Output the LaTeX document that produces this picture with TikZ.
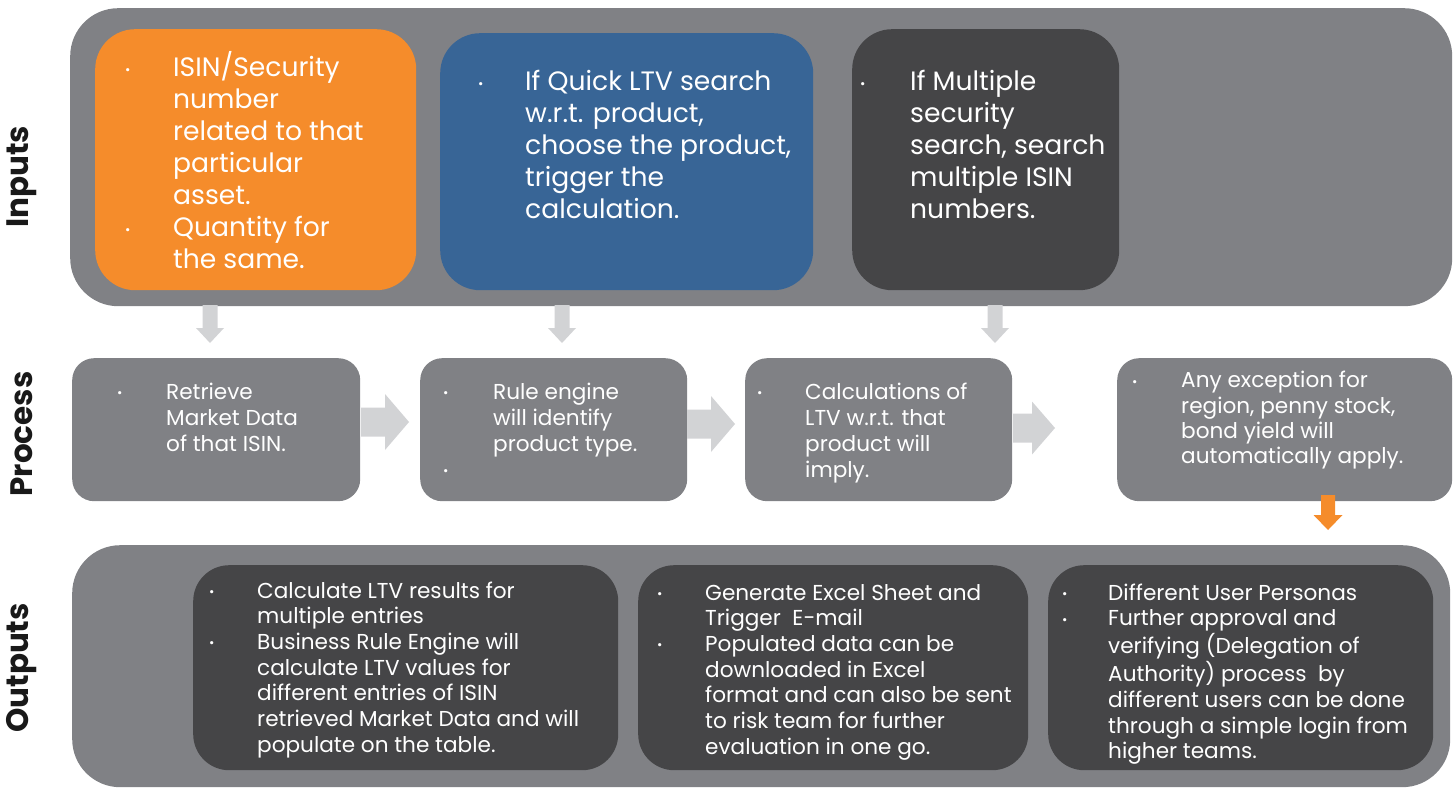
\documentclass[tikz,border=0pt]{standalone}
\usepackage{fontspec}
\setmainfont{Poppins}

\definecolor{bandgray}{RGB}{128,129,133}
\definecolor{darkbox}{RGB}{69,69,71}
\definecolor{inorange}{RGB}{245,140,43}
\definecolor{inblue}{RGB}{56,101,150}
\definecolor{arrowgray}{RGB}{210,211,213}
\definecolor{labelink}{RGB}{25,25,25}

% small bullet used in every list
\newcommand\blt{\raisebox{0.15ex}{\fontsize{13}{13}\selectfont\textbullet}}
\newcommand\bigtext{\fontsize{26.6}{32}\selectfont}
\newcommand\smalltext{\fontsize{21.6}{26}\selectfont}
\newcommand\outtext{\fontsize{21.6}{25.7}\selectfont}

% block arrow pointing right: style, name, x, y (mid of tail), length, shaft, head width, head length
\newcommand\blkright[8]{%
  \coordinate (#2) at (#3,#4);
  \fill[#1] ({#3},{#4-#6/2}) -- ({#3+#5-#8},{#4-#6/2}) -- ({#3+#5-#8},{#4-#7/2})
    -- ({#3+#5},{#4}) -- ({#3+#5-#8},{#4+#7/2}) -- ({#3+#5-#8},{#4+#6/2})
    -- ({#3},{#4+#6/2}) -- cycle;}
% block arrow pointing down: style, name, x (mid of tail), y, length, shaft, head width, head length
\newcommand\blkdown[8]{%
  \coordinate (#2) at (#3,#4);
  \fill[#1] ({#3-#6/2},{#4}) -- ({#3+#6/2},{#4}) -- ({#3+#6/2},{#4+#5-#8})
    -- ({#3+#7/2},{#4+#5-#8}) -- ({#3},{#4+#5}) -- ({#3-#7/2},{#4+#5-#8})
    -- ({#3-#6/2},{#4+#5-#8}) -- cycle;}

\tikzset{
  band/.style={fill=bandgray, rounded corners=48pt, inner sep=0pt, anchor=north west},
  inbox/.style={rounded corners=40pt, inner sep=0pt, anchor=north west},
  procbox/.style={fill=bandgray, rounded corners=22pt, inner sep=0pt, anchor=north west},
  outbox/.style={fill=darkbox, rounded corners=36pt, inner sep=0pt, anchor=north west},
  listtext/.style={text=white, inner sep=0pt, anchor=north west, align=left},
  sidelabel/.style={rotate=90, text=labelink, font=\fontsize{31}{31}\selectfont\bfseries},
  grayarrow/.style={fill=arrowgray},
  hotarrow/.style={fill=inorange},
}

\begin{document}
\begin{tikzpicture}[x=1pt, y=-1pt]
\useasboundingbox (0,0) rectangle (1454,789);

% ---- side labels
\node[sidelabel] (lblin) at (22,177) {Inputs};
\node[sidelabel] (lblproc) at (22,434) {Process};
\node[sidelabel] (lblout) at (22,668) {Outputs};

% ---- inputs band
\node[band, minimum width=1382pt, minimum height=298pt] (inband) at (70,8) {};
\node[inbox, fill=inorange, minimum width=321pt, minimum height=261pt] (isin) at (95,29) {};
\node[inbox, fill=inblue, minimum width=373pt, minimum height=257pt] (quick) at (440,33) {};
\node[inbox, fill=darkbox, minimum width=267pt, minimum height=261pt] (multi) at (852,29) {};

\node[listtext, font=\bigtext] (isintxt) at (125,51) {%
  \begin{tabular}{@{}p{48pt}@{}l@{}}
  \blt & ISIN/Security\\ & number\\ & related to that\\ & particular\\ & asset.\\
  \blt & Quantity for\\ & the same.
  \end{tabular}};
\node[listtext, font=\bigtext] (quicktxt) at (478,68) {%
  \begin{tabular}{@{}p{47pt}@{}l@{}}
  \blt & If Quick LTV search\\ & w.r.t. product,\\ & choose the product,\\ & trigger the\\ & calculation.
  \end{tabular}};
\node[listtext, font=\bigtext] (multitxt) at (860,68) {%
  \begin{tabular}{@{}p{50pt}@{}l@{}}
  \blt & If Multiple\\ & security\\ & search, search\\ & multiple ISIN\\ & numbers.
  \end{tabular}};

% ---- process row
\node[procbox, minimum width=288pt, minimum height=143pt] (retr) at (72,358) {};
\node[procbox, minimum width=267pt, minimum height=143pt] (rule) at (420,358) {};
\node[procbox, minimum width=267pt, minimum height=143pt] (calc) at (745,358) {};
\node[procbox, minimum width=335pt, minimum height=143pt] (exc) at (1117,358) {};

\node[listtext, font=\smalltext] (retrtxt) at (117,381) {%
  \begin{tabular}{@{}p{49pt}@{}l@{}}
  \blt & Retrieve\\ & Market Data\\ & of that ISIN.
  \end{tabular}};
\node[listtext, font=\smalltext] (ruletxt) at (443,381) {%
  \begin{tabular}{@{}p{50pt}@{}l@{}}
  \blt & Rule engine\\ & will identify\\ & product type.\\ \blt &
  \end{tabular}};
\node[listtext, font=\smalltext] (calctxt) at (757,381) {%
  \begin{tabular}{@{}p{48pt}@{}l@{}}
  \blt & Calculations of\\ & LTV w.r.t. that\\ & product will\\ & imply.
  \end{tabular}};
\node[listtext, font=\fontsize{21.6}{25.3}\selectfont] (exctxt) at (1132,370) {%
  \begin{tabular}{@{}p{49pt}@{}l@{}}
  \blt & Any exception for\\ & region, penny stock,\\ & bond yield will\\ & automatically apply.
  \end{tabular}};

% ---- block arrows from inputs to process
\blkdown{grayarrow}{dA}{210}{305}{38}{15}{28}{15}
\blkdown{grayarrow}{dB}{562}{305}{38}{15}{28}{15}
\blkdown{grayarrow}{dC}{995}{305}{38}{15}{28}{15}

% ---- block arrows along the process row
\blkright{grayarrow}{rA}{361}{422}{48}{29}{56}{24}
\blkright{grayarrow}{rB}{687}{424}{48}{29}{56}{24}
\blkright{grayarrow}{rC}{1013}{428}{42}{29}{53}{23}

% ---- orange arrow into outputs
\blkdown{hotarrow}{dOut}{1328}{495}{35}{14}{29}{15}

% ---- outputs band
\node[band, minimum width=1378pt, minimum height=242pt] (outband) at (72,545) {};
\node[outbox, minimum width=425pt, minimum height=205pt] (ltv) at (193,565) {};
\node[outbox, minimum width=390pt, minimum height=205pt] (excel) at (638,565) {};
\node[outbox, minimum width=385pt, minimum height=205pt] (users) at (1048,565) {};

\node[listtext, font=\outtext] (ltvtxt) at (209,580) {%
  \begin{tabular}{@{}p{48pt}@{}l@{}}
  \blt & Calculate LTV results for\\ & multiple entries\\
  \blt & Business Rule Engine will\\ & calculate LTV values for\\ & different entries of ISIN\\
       & retrieved Market Data and will\\ & populate on the table.
  \end{tabular}};
\node[listtext, font=\outtext] (exceltxt) at (657,582) {%
  \begin{tabular}{@{}p{48pt}@{}l@{}}
  \blt & Generate Excel Sheet and\\ & Trigger\ \ E-mail\\
  \blt & Populated data can be\\ & downloaded in Excel\\ & format and can also be sent\\
       & to risk team for further\\ & evaluation in one go.
  \end{tabular}};
\node[listtext, font=\outtext] (userstxt) at (1062,582) {%
  \begin{tabular}{@{}p{46pt}@{}l@{}}
  \blt & Different User Personas\\
  \blt & Further approval and\\ & verifying (Delegation of\\ & Authority) process\ \ by\\
       & different users can be done\\ & through a simple login from\\ & higher teams.
  \end{tabular}};
\end{tikzpicture}
\end{document}
